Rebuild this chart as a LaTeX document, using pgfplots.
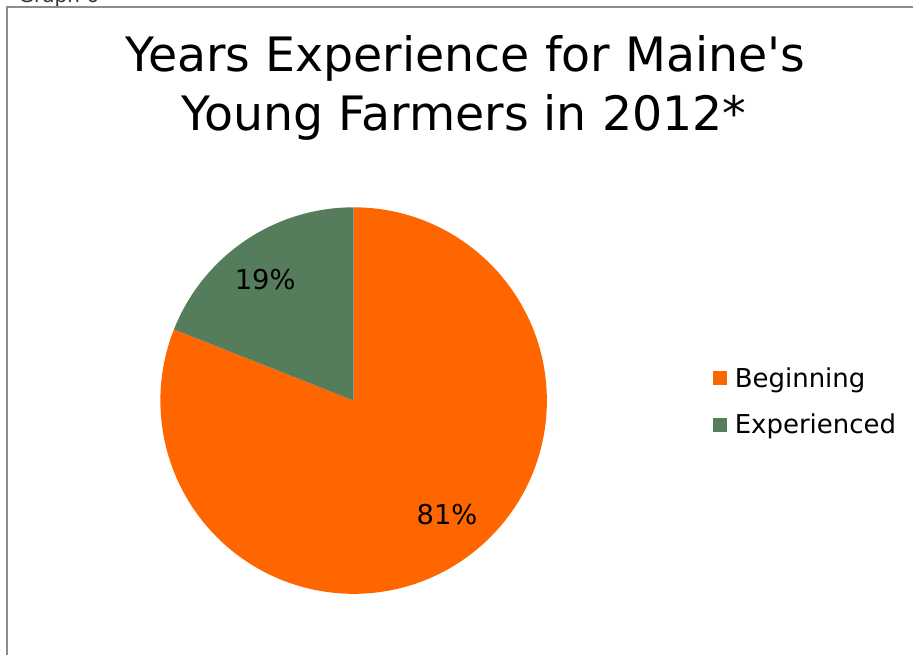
\documentclass[border=0pt]{standalone}
\usepackage{fontspec}
\setmainfont{DejaVu Sans}[Ligatures=TeXOff]
\usepackage{pgfplots}
\usepackage{pgfplotstable}
\pgfplotsset{compat=1.18}

\definecolor{begc}{HTML}{FF6600}
\definecolor{expc}{HTML}{557D5C}
\definecolor{framec}{HTML}{8C8C8C}

% share of young farmers, percent
\pgfplotstableread{
label value
Beginning 81
Experienced 19
}\piedata

\begin{document}
\begin{tikzpicture}
% slice angles from the table (pie starts at 12 o'clock)
\pgfplotstablegetelem{0}{value}\of\piedata
\let\valB\pgfplotsretval
\pgfplotstablegetelem{1}{value}\of\piedata
\let\valE\pgfplotsretval
\pgfmathsetmacro{\angB}{360*(\valB/(\valB+\valE))}
\pgfmathsetmacro{\angE}{360*(\valE/(\valB+\valE))}
\def\R{145.1pt}
\begin{axis}[
	x=0.75pt, y=0.75pt,
	xmin=0, xmax=914, ymin=0, ymax=656,
	y dir=reverse,
	scale only axis,
	hide axis,
	clip=false,
	legend style={
		at={(axis cs:714,379)}, anchor=north west,
		draw=none, fill=none, inner sep=0pt,
		font=\fontsize{19.5}{23}\selectfont,
		row sep=14.5pt,
		nodes={inner sep=2pt},
		/tikz/every odd column/.append style={column sep=3.5pt},
		yshift=10.5pt
	},
	legend cell align=left,
	legend image code/.code={
		\fill[#1] (0pt,-5.25pt) rectangle (10.5pt,5.25pt);
	},
]
\path (axis cs:0,0) rectangle (axis cs:914,656);

% frame of the chart area
\draw[framec, line width=1.5pt] (axis cs:7,656) -- (axis cs:7,7) -- (axis cs:914,7);
\node[overlay, anchor=base west, font=\fontsize{15}{18}\selectfont, text=black!80]
	at (axis cs:14,3) {Graph 6};

% title
\node[anchor=base, font=\fontsize{35.6}{40}\selectfont] at (axis cs:466,72) {Years Experience for Maine's};
\node[anchor=base, font=\fontsize{35.6}{40}\selectfont] at (axis cs:464.5,131) {Young Farmers in 2012*};

% pie slices
\fill[begc] (axis cs:354,401) -- ++(90:\R) arc[start angle=90, end angle={90-\angB}, radius=\R] -- cycle;
\fill[expc] (axis cs:354,401) -- ++(90:\R) arc[start angle=90, end angle={90+\angE}, radius=\R] -- cycle;

% data labels
\node[font=\fontsize{20.5}{24}\selectfont, inner sep=0pt] at (axis cs:447.5,515) {\valB\%};
\node[font=\fontsize{20.5}{24}\selectfont, inner sep=0pt] at (axis cs:265.5,279.5) {\valE\%};

\addlegendimage{fill=begc, draw=none}
\addlegendentry{Beginning}
\addlegendimage{fill=expc, draw=none}
\addlegendentry{Experienced}
\end{axis}
\end{tikzpicture}
\end{document}
